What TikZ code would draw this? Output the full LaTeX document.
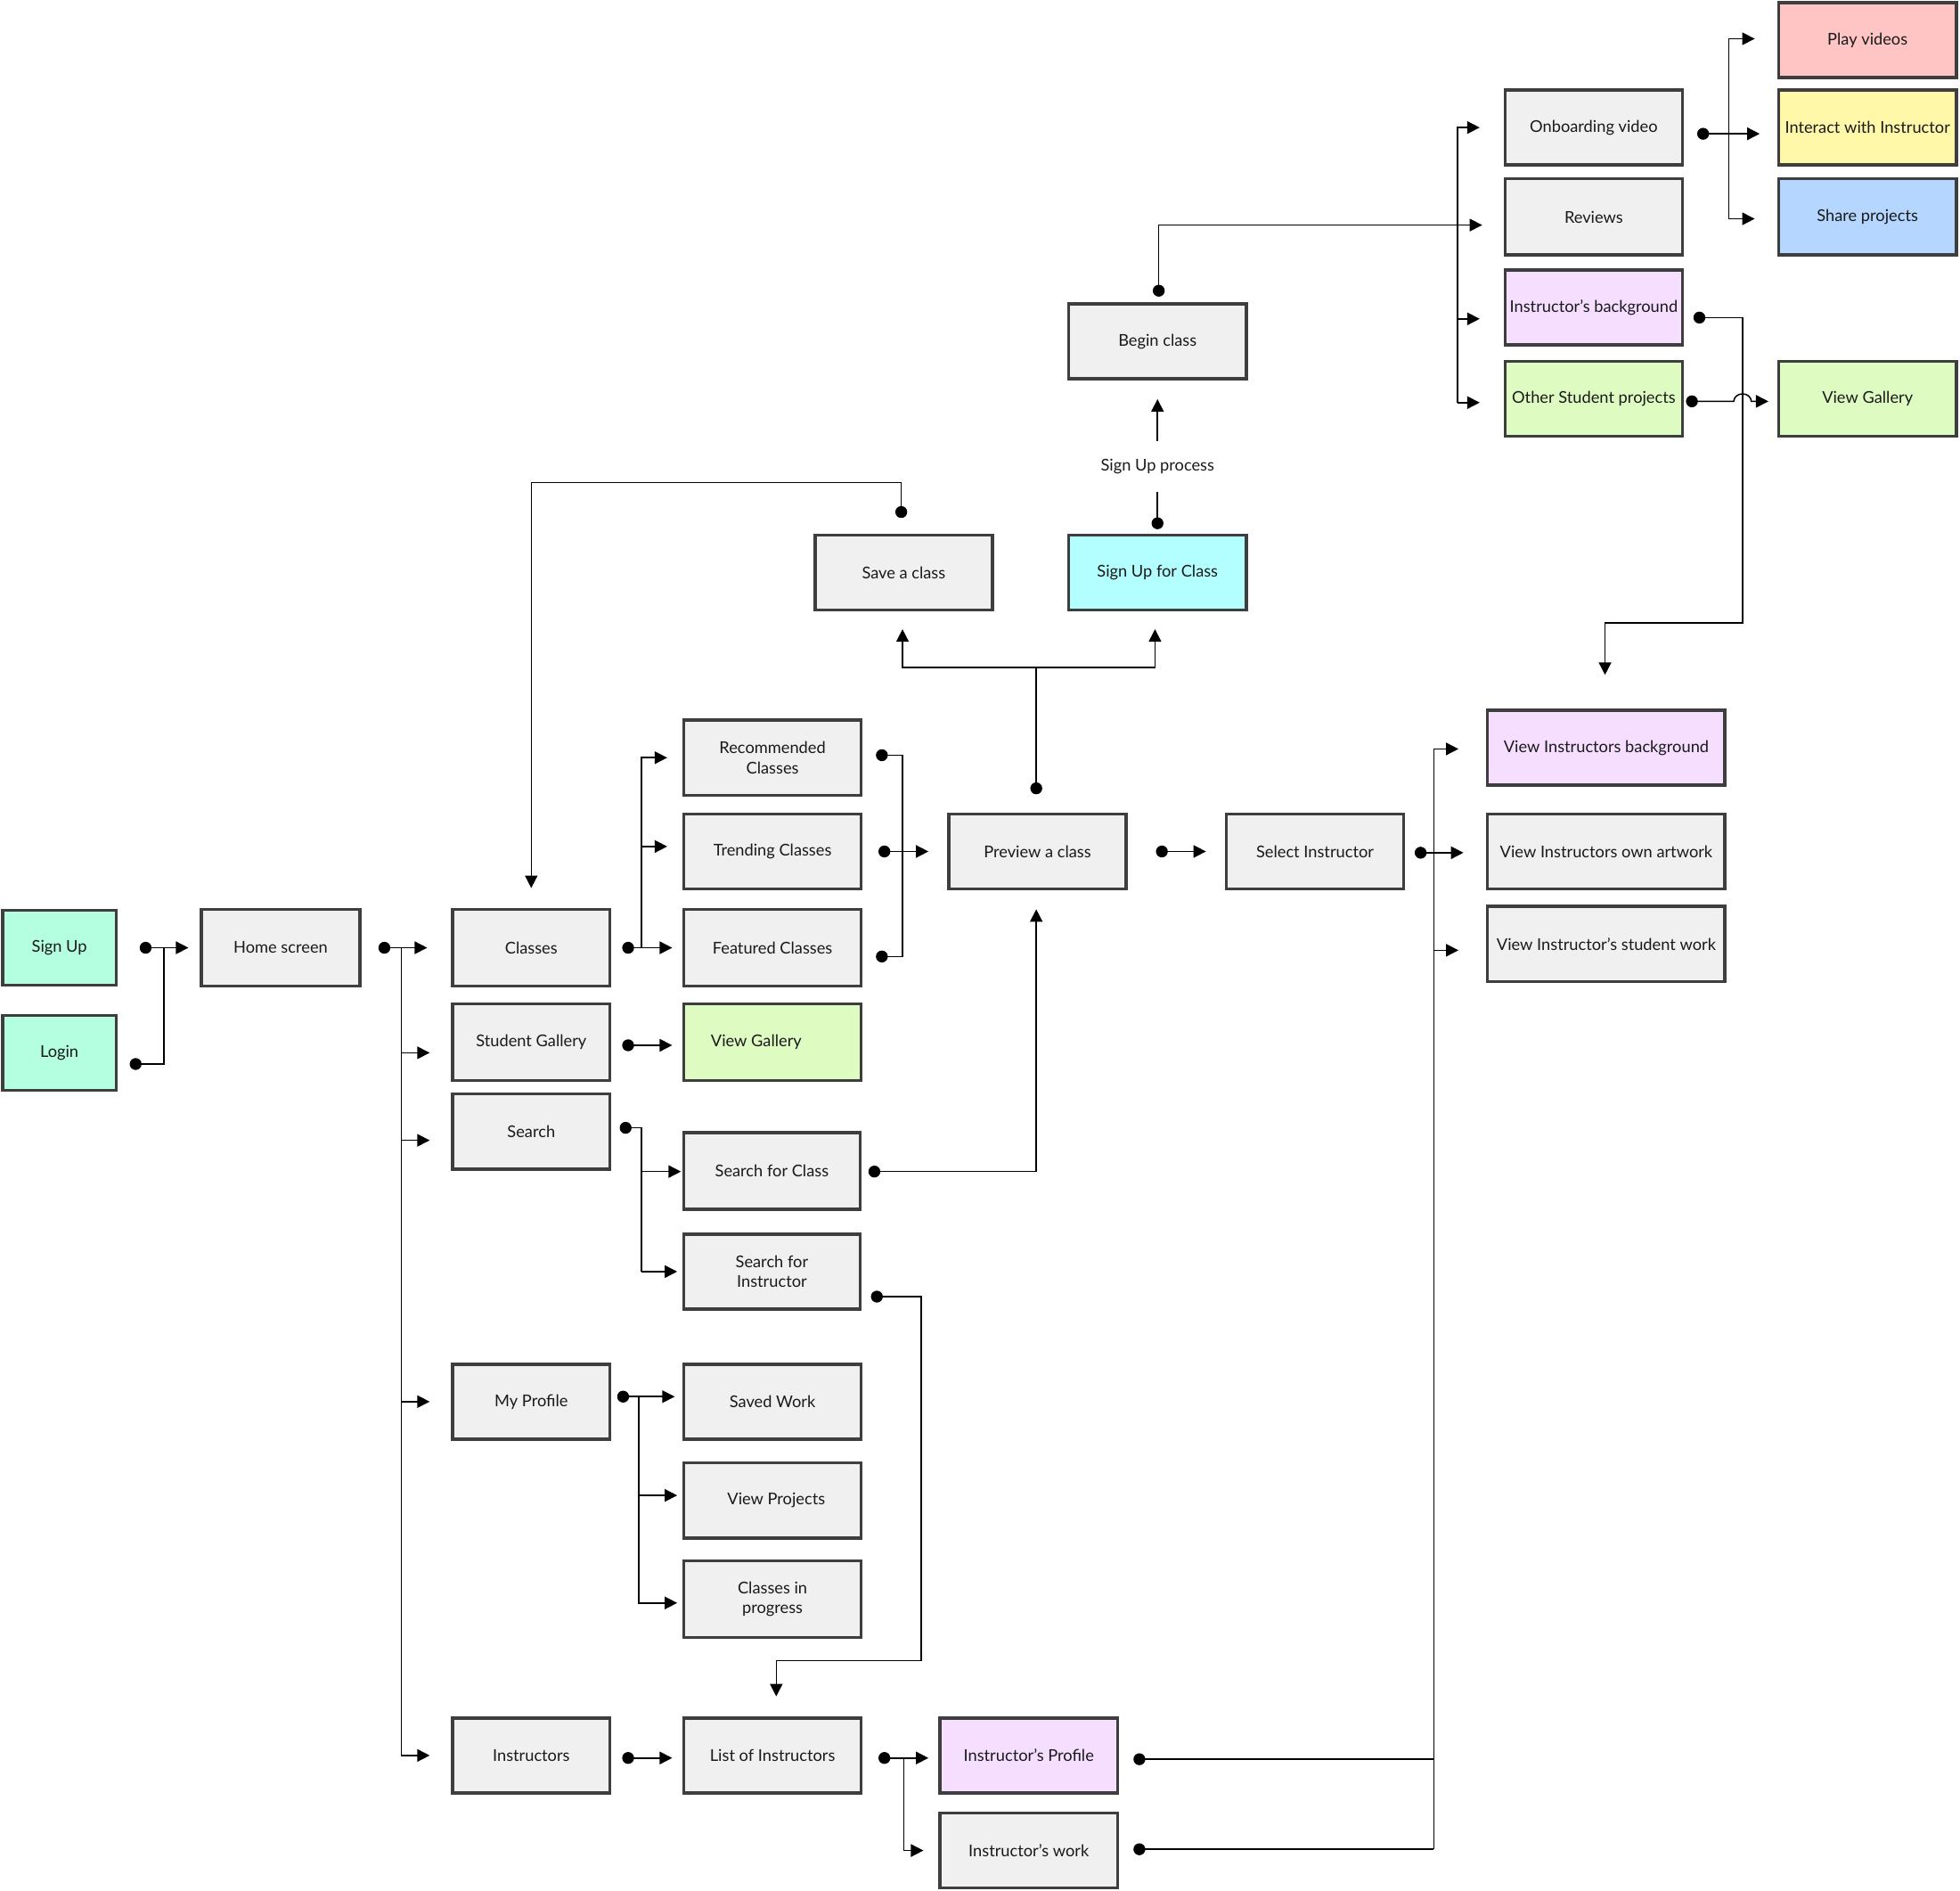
\documentclass[tikz,border=0pt]{standalone}
\usepackage{fontspec}
\setmainfont{Lato}
\usetikzlibrary{arrows.meta}
\definecolor{boxg}{HTML}{F0F0F0}
\definecolor{bordc}{HTML}{3E3E3E}
\definecolor{mint}{HTML}{B5FFE1}
\definecolor{cyanf}{HTML}{B3FFFF}
\definecolor{lav}{HTML}{F5DEFF}
\definecolor{grn}{HTML}{DEFCC2}
\definecolor{pinkf}{HTML}{FFC5C5}
\definecolor{yel}{HTML}{FFF8A8}
\definecolor{blu}{HTML}{B4D6FF}
\definecolor{txtc}{HTML}{1A1A1A}
\newcommand{\bx}[7]{\node[box,fill=#6,minimum width=#4pt,minimum height=#5pt] (#1) at (#2,#3) {#7};}
\begin{document}
\begin{tikzpicture}[x=1pt,y=-1pt,
  box/.style={draw=bordc, line width=2.5pt, inner sep=1pt, align=center,
    font=\fontsize{13}{16}\selectfont, text=txtc},
  line/.style={line width=1.1pt, draw=black},
  dta/.style={line, {Circle[length=9.5pt]}-{Triangle[length=10pt,width=10pt]}},
  da/.style={line, {Circle[length=9.5pt]}-},
  dd/.style={line, {Circle[length=9.5pt]}-{Circle[length=9.5pt]}},
  ta/.style={line, -{Triangle[length=10pt,width=10pt]}},
  lbl/.style={font=\fontsize{13}{16}\selectfont, text=txtc, inner sep=0pt, minimum height=40pt}]
\useasboundingbox (0,0) rectangle (1568,1512);
% boxes
\bx{signup}{47.5}{758}{91}{60}{mint}{Sign Up}
\bx{login}{47.5}{842}{91}{60}{mint}{Login}
\bx{home}{224.5}{758}{127}{61}{boxg}{Home screen}
\bx{classes}{425}{758}{126}{61}{boxg}{Classes}
\bx{stgal}{425}{833.5}{126}{61}{boxg}{Student Gallery}
\bx{search}{425}{905}{126}{60}{boxg}{Search}
\bx{myprof}{425}{1121}{126}{60}{boxg}{My Profile}
\bx{instrs}{425}{1404}{126}{60}{boxg}{Instructors}
\bx{recc}{618}{606}{142}{60}{boxg}{Recommended\\Classes}
\bx{trend}{618}{681}{142}{60}{boxg}{Trending Classes}
\bx{feat}{618}{758}{142}{61}{boxg}{Featured Classes}
\bx{vgal1}{618}{833.5}{142}{61}{grn}{View Gallery\hspace*{26pt}}
\bx{sclass}{617.5}{936.5}{141}{61}{boxg}{Search for Class}
\bx{sinstr}{617.5}{1017}{141}{60}{boxg}{Search for\\Instructor}
\bx{saved}{618}{1121}{142}{60}{boxg}{Saved Work}
\bx{vproj}{618}{1200}{142}{60}{boxg}{\hspace*{6pt}View Projects}
\bx{cip}{618}{1279}{142}{61}{boxg}{Classes in\\progress}
\bx{list}{618}{1404}{142}{60}{boxg}{List of Instructors}
\bx{save}{723}{458}{142}{60}{boxg}{Save a class}
\bx{sufc}{926}{458}{142}{60}{cyanf}{Sign Up for Class}
\bx{begin}{926}{273}{142}{60}{boxg}{Begin class}
\bx{preview}{830}{681}{142}{60}{boxg}{Preview a class}
\bx{iprof}{823}{1404}{142}{60}{lav}{Instructor's Profile}
\bx{iwork}{823}{1480}{142}{60}{boxg}{Instructor's work}
\bx{selinst}{1052}{681}{142}{60}{boxg}{Select Instructor}
\bx{vib}{1285}{598}{190}{60}{lav}{View Instructors background}
\bx{voa}{1285}{681}{190}{60}{boxg}{View Instructors own artwork}
\bx{vsw}{1285}{755}{190}{60}{boxg}{View Instructor's student work}
\bx{onb}{1275}{102}{142}{60}{boxg}{Onboarding video}
\bx{rev}{1275}{173.5}{142}{61}{boxg}{Reviews}
\bx{ibg}{1275}{246}{142}{60}{lav}{Instructor's background}
\bx{osp}{1275}{319}{142}{60}{grn}{Other Student projects}
\bx{play}{1494}{32}{142}{60}{pinkf}{Play videos}
\bx{inter}{1494}{102}{142}{60}{yel}{Interact with Instructor}
\bx{share}{1494}{173.5}{142}{61}{blu}{Share projects}
\bx{vgal2}{1494}{319}{142}{60}{grn}{View Gallery}
\node[lbl] (supl) at (926,373) {Sign Up process};
% connectors
\draw[dta] ([xshift=17.5pt]signup.east) -- ([xshift=-9pt]home.west);
\draw[da] ([xshift=9.5pt,yshift=-9pt]login.east) -| (131,758);
\draw[dta] ([xshift=13.5pt]home.east) -- ([xshift=-19pt]classes.west);
\draw[ta] (321,758) |- ([xshift=-17pt]instrs.west);
\draw[ta] (321,842) -- ([xshift=-17pt,yshift=-8.5pt]stgal.west);
\draw[ta] (321,912) -- ([xshift=-17pt,yshift=-7pt]search.west);
\draw[ta] (321,1121) -- ([xshift=-17pt]myprof.west);
\draw[dta] ([xshift=8.5pt]classes.east) -- ([xshift=-8pt]feat.west);
\draw[ta] (513,758) |- ([xshift=-12pt]recc.west);
\draw[ta] (513,677) -- ([xshift=-12pt,yshift=4pt]trend.west);
\draw[dta] ([xshift=8.5pt,yshift=-2.5pt]stgal.east) -- ([xshift=-8pt,yshift=-2.5pt]vgal1.west);
\draw[da] ([xshift=6.5pt,yshift=3pt]search.east) -| (513,1017);
\draw[ta] (513,1017) -- ([xshift=-4pt]sinstr.west);
\draw[ta] (513,937) -- ([xshift=-1pt,yshift=-0.5pt]sclass.west);
\draw[dd] ([xshift=10.5pt,yshift=2pt]recc.east) -| (722,681) |- ([xshift=10.5pt,yshift=-7pt]feat.east);
\draw[dta] ([xshift=12.5pt]trend.east) -- ([xshift=-15pt]preview.west);
\draw[dta] ([xshift=5.5pt,yshift=-0.5pt]sclass.east) -| ([xshift=-1pt,yshift=-15pt]preview.south);
\draw[dta] ([xshift=22.5pt]preview.east) -- ([xshift=-15pt]selinst.west);
\draw[dta] ([xshift=-1pt,yshift=14.5pt]preview.north) -- (829,534) -| ([xshift=-1pt,yshift=-14pt]save.south);
\draw[ta] (829,534) -| ([xshift=-2pt,yshift=-14pt]sufc.south);
\draw[dta] ([xshift=-2pt,yshift=12.5pt]save.north) |- (425,386) -- ([yshift=16pt]classes.north);
\draw[da] ([yshift=3.5pt]sufc.north) -- (supl.south);
\draw[ta] (supl.north) -- ([yshift=-15pt]begin.south);
\draw[dta] ([xshift=1pt,yshift=4.5pt]begin.north) |- ([xshift=-17pt,yshift=-6.5pt]rev.west);
\draw[ta] (1166,322) |- ([xshift=-19pt]onb.west);
\draw[ta] (1166,322) -- ([xshift=-19pt,yshift=-3pt]osp.west);
\draw[ta] (1166,255) -- ([xshift=-19pt,yshift=-9pt]ibg.west);
\draw[dta] ([xshift=10.5pt,yshift=-5pt]onb.east) -- ([xshift=-14pt,yshift=-5pt]inter.west);
\draw[ta] (1383,107) |- ([xshift=-18pt,yshift=1pt]play.west);
\draw[ta] (1383,107) |- ([xshift=-18pt,yshift=-1.5pt]share.west);
\draw[dta] ([xshift=7.5pt,yshift=-8pt]ibg.east) -| (1394,498) -| ([xshift=-1pt,yshift=27pt]vib.north);
\draw[dta] ([xshift=1.5pt,yshift=-2pt]osp.east) -- (1387,321) arc[start angle=180,end angle=0,x radius=7pt,y radius=6pt] -- ([xshift=-7pt,yshift=-2pt]vgal2.west);
\draw[dta] ([xshift=7.5pt,yshift=-1pt]selinst.east) -- ([xshift=-18pt,yshift=-1pt]voa.west);
\draw[ta] (1147,1479) |- ([xshift=-22pt,yshift=-1pt]vib.west);
\draw[ta] (1147,760) -- ([xshift=-22pt,yshift=-5pt]vsw.west);
\draw[da] ([xshift=11.5pt,yshift=-3pt]iprof.east) -- (1147,1407);
\draw[da] ([xshift=11.5pt,yshift=1pt]iwork.east) -- (1147,1479);
\draw[dta] ([xshift=7.5pt,yshift=-20pt]sinstr.east) -| (737,1328) -| ([xshift=3pt,yshift=16pt]list.north);
\draw[dta] ([xshift=4.5pt,yshift=4pt]myprof.east) -- ([xshift=-6pt,yshift=4pt]saved.west);
\draw[ta] (511,1117) |- ([xshift=-4pt,yshift=-3pt]cip.west);
\draw[ta] (511,1196) -- ([xshift=-4pt,yshift=4pt]vproj.west);
\draw[dta] ([xshift=8.5pt,yshift=-2pt]instrs.east) -- ([xshift=-8pt,yshift=-2pt]list.west);
\draw[dta] ([xshift=12.5pt,yshift=-2pt]list.east) -- ([xshift=-8pt,yshift=-2pt]iprof.west);
\draw[ta] (723,1406) |- ([xshift=-12pt]iwork.west);
\end{tikzpicture}
\end{document}
